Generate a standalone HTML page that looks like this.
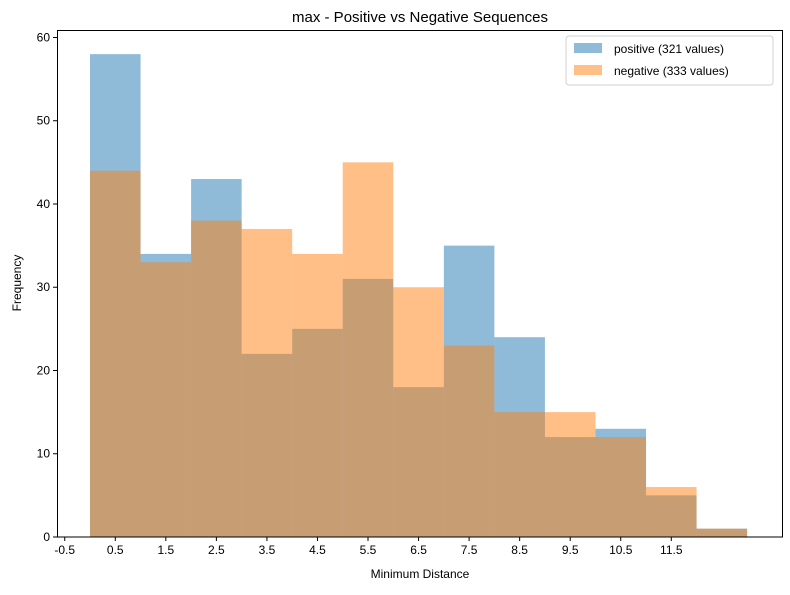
<!DOCTYPE html>
<html><head><meta charset="utf-8"><style>
body{margin:0;background:#fff;}
svg text{font-family:"Liberation Sans","DejaVu Sans",sans-serif;fill:#000;}
</style></head><body>
<svg id="chart" width="790" height="590" xmlns="http://www.w3.org/2000/svg">
<rect width="790" height="590" fill="#fff"/>
<g id="bars"></g>
<rect x="57.5" y="30.5" width="725" height="506.5" fill="none" stroke="#000" stroke-width="1"/>
<g id="axes"></g>
<text x="420" y="22" font-size="15" text-anchor="middle">max - Positive vs Negative Sequences</text>
<text x="420" y="578" font-size="12" text-anchor="middle">Minimum Distance</text>
<text x="21" y="283" font-size="12" text-anchor="middle" transform="rotate(-90 21 283)">Frequency</text>
<g>
<rect x="566" y="36" width="207" height="49" rx="3" fill="#fff" stroke="#ccc" opacity="0.9"/>
<rect x="574" y="43" width="28" height="10" fill="#1f77b4" fill-opacity="0.5"/>
<text x="614" y="53" font-size="12">positive (321 values)</text>
<rect x="574" y="65" width="28" height="10" fill="#ff7f0e" fill-opacity="0.5"/>
<text x="614" y="75" font-size="12">negative (333 values)</text>
</g>
</svg>
<script>
const binEdges=[0,1,2,3,4,5,6,7,8,9,10,11,12,13];
const positive=[58,34,43,22,25,31,18,35,24,12,13,5,1];
const negative=[44,33,38,37,34,45,30,23,15,15,12,6,1];
const xTicks=[-0.5,0.5,1.5,2.5,3.5,4.5,5.5,6.5,7.5,8.5,9.5,10.5,11.5];
const yTicks=[0,10,20,30,40,50,60];
const X0=57,X1=783,Y0=537,Y1=30,xmin=-0.653,xmax=13.71,ymin=0,ymax=60.9;
const xs=v=>X0+(v-xmin)/(xmax-xmin)*(X1-X0);
const ys=v=>Y0-(v-ymin)/(ymax-ymin)*(Y0-Y1);
const NS="http://www.w3.org/2000/svg";
const bars=document.getElementById('bars'),axes=document.getElementById('axes');
function mk(t,a,p){const e=document.createElementNS(NS,t);for(const k in a)e.setAttribute(k,a[k]);p.appendChild(e);return e;}
[[positive,'#1f77b4','positive'],[negative,'#ff7f0e','negative']].forEach(([arr,col,nm])=>{
arr.forEach((v,i)=>{
const r=mk('rect',{x:xs(binEdges[i]),y:ys(v),width:xs(binEdges[i+1])-xs(binEdges[i]),height:ys(0)-ys(v),fill:col,'fill-opacity':0.5},bars);


});});
xTicks.forEach(t=>{const x=xs(t);
mk('line',{x1:x,x2:x,y1:Y0,y2:Y0+4,stroke:'#000'},axes);
const tx=mk('text',{x:x,y:Y0+17,'font-size':12,'text-anchor':'middle'},axes);tx.textContent=t;


});
yTicks.forEach(t=>{const y=ys(t);
mk('line',{x1:X0-4,x2:X0,y1:y,y2:y,stroke:'#000'},axes);
const tx=mk('text',{x:X0-7,y:y+4,'font-size':12,'text-anchor':'end'},axes);tx.textContent=t;


});
</script>
</body></html>
